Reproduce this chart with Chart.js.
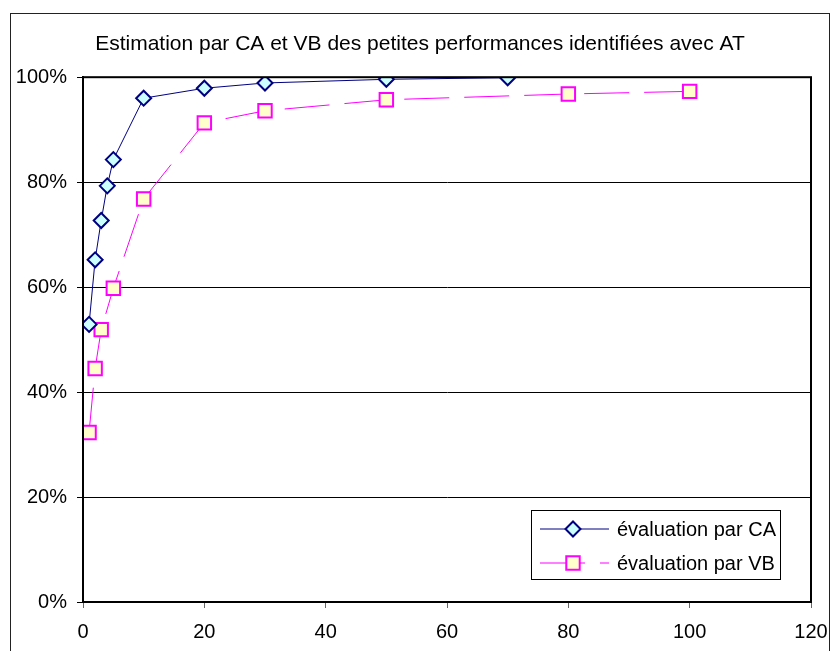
<!DOCTYPE html>
<html>
<head>
<meta charset="utf-8">
<script src="https://cdn.jsdelivr.net/npm/chart.js@4"></script>
<style>
html,body{margin:0;padding:0;background:#fff;}
#wrap{width:830px;height:651px;position:relative;}
</style>
</head>
<body>
<div id="wrap"><canvas id="c" width="830" height="651"></canvas></div>
<script>
const chartTitle = "Estimation par CA et VB des petites performances identifiées avec AT";
const labelCA = "évaluation par CA";
const labelVB = "évaluation par VB";
const caX = [1, 2, 3, 4, 5, 10, 20, 30, 50, 70];
const caY = [0.529, 0.652, 0.727, 0.793, 0.843, 0.960, 0.979, 0.989, 0.996, 0.999];
const vbX = [1, 2, 3, 5, 10, 20, 30, 50, 80, 100];
const vbY = [0.323, 0.445, 0.519, 0.598, 0.768, 0.913, 0.936, 0.957, 0.968, 0.973];
const xTicks = [0, 20, 40, 60, 80, 100, 120];
const yTicks = [0, 0.2, 0.4, 0.6, 0.8, 1.0];

const FONT = "'Liberation Sans', Arial, sans-serif";

const frame = {
  id: 'frame',
  beforeDraw(chart) {
    const ctx = chart.ctx;
    ctx.save();
    ctx.fillStyle = '#fff';
    ctx.fillRect(0, 0, chart.width, chart.height);
    ctx.strokeStyle = '#222';
    ctx.lineWidth = 1;
    ctx.strokeRect(10.5, 13.5, 819, 700);
    ctx.restore();
  },
  afterDatasetsDraw(chart) {
    const ctx = chart.ctx;
    const a = chart.chartArea;
    ctx.save();
    ctx.strokeStyle = '#000';
    ctx.lineWidth = 2;
    ctx.strokeRect(a.left, a.top, a.right - a.left, a.bottom - a.top);
    // legend box
    const bx = 531.5, by = 510.5, bw = 249, bh = 69;
    ctx.fillStyle = '#fff';
    ctx.fillRect(bx, by, bw, bh);
    ctx.lineWidth = 1;
    ctx.strokeStyle = '#000';
    ctx.strokeRect(bx, by, bw, bh);
    const rows = [529, 563];
    chart.data.datasets.forEach((ds, i) => {
      const y = rows[i];
      ctx.save();
      ctx.strokeStyle = ds.borderColor;
      ctx.lineWidth = ds.borderWidth;
      ctx.setLineDash(ds.borderDash || []);
      ctx.beginPath();
      ctx.moveTo(540, y);
      ctx.lineTo(609, y);
      ctx.stroke();
      ctx.restore();
      ctx.save();
      ctx.fillStyle = ds.pointBackgroundColor;
      ctx.strokeStyle = ds.pointBorderColor;
      ctx.lineWidth = ds.pointBorderWidth;
      Chart.helpers.drawPoint(ctx, {pointStyle: ds.pointStyle, radius: ds.pointRadius, borderWidth: ds.pointBorderWidth, rotation: 0}, 573, y);
      ctx.restore();
      ctx.fillStyle = '#000';
      ctx.font = "20px " + FONT;
      ctx.textBaseline = 'middle';
      ctx.textAlign = 'left';
      ctx.fillText(ds.label, 617, y + 1);
    });
    ctx.restore();
  }
};

new Chart(document.getElementById('c'), {
  type: 'line',
  data: {
    datasets: [
      {
        label: labelCA,
        data: caX.map((x, i) => ({x: x, y: caY[i]})),
        borderColor: '#000080',
        borderWidth: 1,
        pointStyle: 'rectRot',
        pointRadius: 7.5,
        pointBackgroundColor: '#CCFFFF',
        pointBorderColor: '#000080',
        pointBorderWidth: 2,
        tension: 0
      },
      {
        label: labelVB,
        data: vbX.map((x, i) => ({x: x, y: vbY[i]})),
        borderColor: '#FF00FF',
        borderWidth: 1,
        borderDash: [45, 15],
        pointStyle: 'rect',
        pointRadius: 9.5,
        pointBackgroundColor: '#FFFFCC',
        pointBorderColor: '#FF00FF',
        pointBorderWidth: 2,
        tension: 0
      }
    ]
  },
  options: {
    responsive: false,
    animation: false,
    devicePixelRatio: 1,
    layout: {padding: {left: 10, right: 0, top: 0, bottom: 0}},
    plugins: {
      legend: {display: false},
      tooltip: {enabled: false},
      title: {
        display: true,
        text: chartTitle,
        color: '#000',
        font: {family: FONT, size: 21, weight: 'normal', lineHeight: 1.2},
        padding: {top: 32, bottom: 20}
      }
    },
    scales: {
      x: {
        type: 'linear',
        min: 0, max: 120,
        afterBuildTicks(scale) { scale.ticks = xTicks.map(v => ({value: v})); },
        afterFit(scale) { scale.height = 49; scale.paddingRight = 19; scale.paddingLeft = 0; },
        border: {display: true, color: '#000', width: 2},
        grid: {drawOnChartArea: false, drawTicks: true, tickLength: 6, color: '#666'},
        ticks: {color: '#000', font: {family: FONT, size: 20}, padding: 12, maxRotation: 0, autoSkip: false}
      },
      y: {
        type: 'linear',
        min: 0, max: 1,
        afterBuildTicks(scale) { scale.ticks = yTicks.map(v => ({value: v})); },
        afterFit(scale) { scale.width = 73; },
        border: {display: true, color: '#000', width: 2},
        grid: {drawOnChartArea: true, drawTicks: true, tickLength: 6, color: '#000', lineWidth: 1},
        ticks: {color: '#000', font: {family: FONT, size: 20}, padding: 10,
          callback: v => Math.round(v * 100) + '%'}
      }
    }
  },
  plugins: [frame]
});
</script>
</body>
</html>
